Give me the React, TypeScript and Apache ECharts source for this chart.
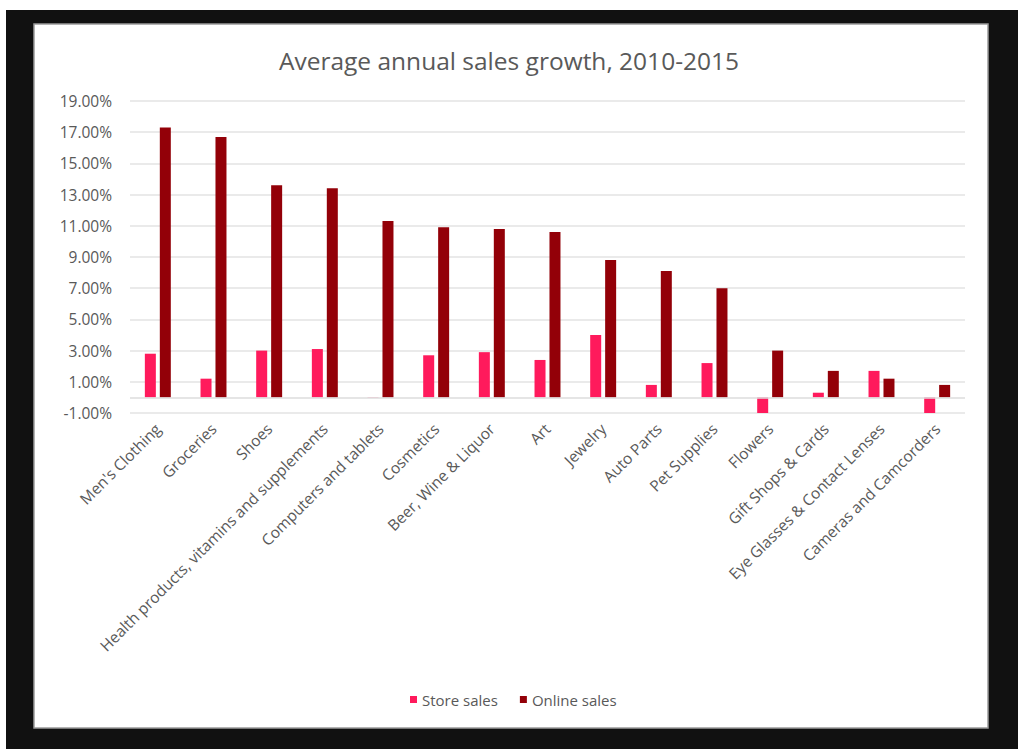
import React, { useEffect, useRef } from "react";
import * as echarts from "echarts";

const categories = [
  "Men's Clothing",
  "Groceries",
  "Shoes",
  "Health products, vitamins and supplements",
  "Computers and tablets",
  "Cosmetics",
  "Beer, Wine & Liquor",
  "Art",
  "Jewelry",
  "Auto Parts",
  "Pet Supplies",
  "Flowers",
  "Gift Shops & Cards",
  "Eye Glasses & Contact Lenses",
  "Cameras and Camcorders",
];

const storeSales = [2.8, 1.2, 3.0, 3.1, 0.02, 2.7, 2.9, 2.4, 4.0, 0.8, 2.2, -1.0, 0.3, 1.7, -1.0];
const onlineSales = [17.3, 16.7, 13.6, 13.4, 11.3, 10.9, 10.8, 10.6, 8.8, 8.1, 7.0, 3.0, 1.7, 1.2, 0.8];

const seriesNames = ["Store sales", "Online sales"];
const chartTitle = "Average annual sales growth, 2010-2015";

const FONT = "'Open Sans', 'Noto Sans', sans-serif";
const GREY = "#595959";

export default function App() {
  const ref = useRef<HTMLDivElement>(null);

  useEffect(() => {
    if (!ref.current) return;
    const chart = echarts.init(ref.current, null, { renderer: "svg" });
    chart.setOption({
      animation: false,
      backgroundColor: "#ffffff",
      graphic: [
        {
          type: "rect",
          z: -10,
          shape: { x: 6, y: 10, width: 1012, height: 739 },
          style: { fill: "#111111" },
        },
        {
          type: "rect",
          z: -9,
          shape: { x: 34, y: 24, width: 954, height: 704 },
          style: { fill: "#ffffff", stroke: "#9a9a9a", lineWidth: 1.5 },
        },
      ],
      title: {
        text: chartTitle,
        left: "center",
        top: 43,
        textStyle: {
          fontFamily: FONT,
          fontSize: 24.5,
          fontWeight: "normal",
          color: GREY,
        },
      },
      legend: {
        data: seriesNames,
        left: 405,
        top: 687,
        itemWidth: 7,
        itemHeight: 7,
        itemGap: 22,
        icon: "rect",
        textStyle: { fontFamily: FONT, fontSize: 15, color: GREY },
      },
      grid: { left: 130, right: 53, top: 101, bottom: 336, containLabel: false },
      xAxis: {
        type: "category",
        data: categories,
        axisLine: { show: false, onZero: false },
        axisTick: { show: false },
        axisLabel: {
          interval: 0,
          rotate: 45,
          margin: 13,
          fontFamily: FONT,
          fontSize: 15.5,
          color: GREY,
        },
      },
      yAxis: {
        type: "value",
        min: -1,
        max: 19,
        interval: 2,
        axisLine: { show: false },
        axisTick: { show: false },
        splitLine: { lineStyle: { color: "#e3e3e3", width: 1.5 } },
        axisLabel: {
          margin: 18,
          fontFamily: FONT,
          fontSize: 15.5,
          color: GREY,
          formatter: (v: number) => v.toFixed(2) + "%",
        },
      },
      series: [
        {
          name: seriesNames[0],
          type: "bar",
          data: storeSales,
          barWidth: 11,
          barGap: "36%",
          itemStyle: { color: "#ff1a5c" },
          markLine: {
            silent: true,
            symbol: "none",
            label: { show: false },
            lineStyle: { color: "#dddddd", type: "solid", width: 1.5 },
            data: [{ yAxis: 0 }],
          },
        },
        {
          name: seriesNames[1],
          type: "bar",
          data: onlineSales,
          barWidth: 11,
          itemStyle: { color: "#930008" },
        },
      ],
    });
    return () => chart.dispose();
  }, []);

  return (
    <div
      ref={ref}
      style={{ position: "absolute", left: 0, top: 0, width: 1018, height: 749 }}
    />
  );
}
